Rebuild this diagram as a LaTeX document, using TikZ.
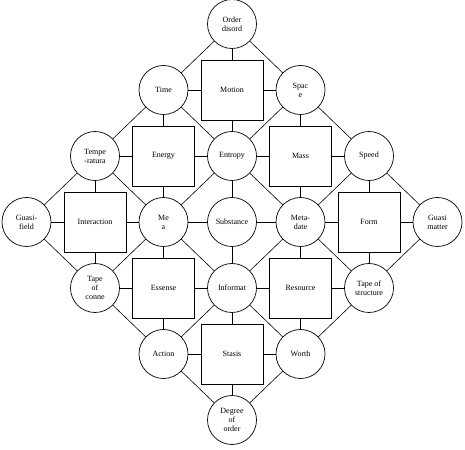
\documentclass[tikz,border=0pt]{standalone}
\usepackage{fontspec}
\setmainfont{Liberation Serif}
\usepackage{tikz}
\usetikzlibrary{positioning}

\begin{document}
\begin{tikzpicture}[
				x=1pt, y=1pt,
				node distance=66pt and 68.5pt, on grid,
				concept/.style={circle, draw, line width=0.7pt, minimum size=49pt, inner sep=0pt, font=\fontsize{8}{9}\selectfont, align=center},
				block/.style={rectangle, draw, line width=0.7pt, minimum width=62pt, minimum height=60pt, inner sep=0pt, font=\fontsize{8}{9}\selectfont, align=center},
				link/.style={line width=0.6pt}
			]
			\useasboundingbox (0,0) rectangle (465,449);

			\node[concept] (order) at (232,425) {Order\\disord};
			\node[block, below=of order] (motion) {Motion};
			\node[concept, left=of motion] (time) {Time};
			\node[concept, right=of motion] (space) {Spac\\e};

			\node[concept, below=of motion] (entropy) {Entropy};
			\node[block, left=of entropy] (energy) {Energy};
			\node[concept, left=of energy] (tempe) {Tempe\\-ratura};
			\node[block, right=of entropy] (mass) {Mass};
			\node[concept, right=of mass] (speed) {Speed};

			\node[concept, below=of entropy] (substance) {Substance};
			\node[concept, left=of substance] (mea) {Me\\a};
			\node[block, left=of mea] (interaction) {Interaction};
			\node[concept, left=of interaction] (gfield) {Guasi-\\field};
			\node[concept, right=of substance] (metadate) {Meta-\\date};
			\node[block, right=of metadate] (form) {Form};
			\node[concept, right=of form] (gmatter) {Guasi\\matter};

			\node[concept, below=of substance] (informat) {Informat};
			\node[block, left=of informat] (essense) {Essense};
			\node[concept, left=of essense] (tconne) {Tape\\of\\conne};
			\node[block, right=of informat] (resource) {Resource};
			\node[concept, right=of resource] (tstruct) {Tape of\\structure};

			\node[block, below=of informat] (stasis) {Stasis};
			\node[concept, left=of stasis] (action) {Action};
			\node[concept, right=of stasis] (worth) {Worth};
			\node[concept, below=of stasis] (degree) {Degree\\of\\order};

			\draw[link] (time) -- (motion) -- (space);
			\draw[link] (tempe) -- (energy) -- (entropy) -- (mass) -- (speed);
			\draw[link] (gfield) -- (interaction) -- (mea) -- (substance) -- (metadate) -- (form) -- (gmatter);
			\draw[link] (tconne) -- (essense) -- (informat) -- (resource) -- (tstruct);
			\draw[link] (action) -- (stasis) -- (worth);

			\draw[link] (order) -- (motion) -- (entropy) -- (substance) -- (informat) -- (stasis) -- (degree);
			\draw[link] (time) -- (energy) -- (mea) -- (essense) -- (action);
			\draw[link] (space) -- (mass) -- (metadate) -- (resource) -- (worth);
			\draw[link] (tempe) -- (interaction) -- (tconne);
			\draw[link] (speed) -- (form) -- (tstruct);

			\draw[link] (gfield) -- (tempe) -- (time) -- (order) -- (space) -- (speed) -- (gmatter);
			\draw[link] (gfield) -- (tconne) -- (action) -- (degree) -- (worth) -- (tstruct) -- (gmatter);
			\draw[link] (tempe) -- (mea) -- (entropy) -- (metadate) -- (speed);
			\draw[link] (tconne) -- (mea) -- (informat) -- (metadate) -- (tstruct);
			\draw[link] (time) -- (entropy) -- (space);
			\draw[link] (action) -- (informat) -- (worth);

		\end{tikzpicture}
\end{document}
